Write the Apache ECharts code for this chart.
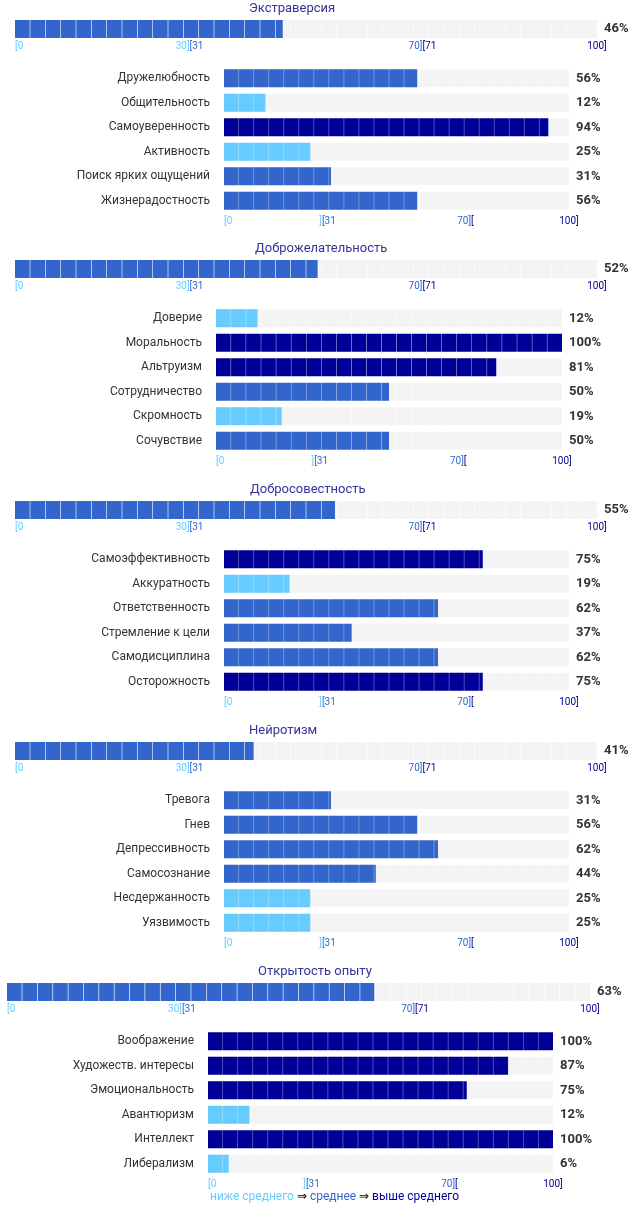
<!DOCTYPE html>
<html>
<head>
<meta charset="UTF-8">
<title>Big Five</title>
<script src="https://cdn.jsdelivr.net/npm/echarts@6/dist/echarts.min.js"></script>
<style>
  * { margin: 0; padding: 0; }
  body { background: #fff; }
  #main { width: 642px; height: 1224px; }
</style>
</head>
<body>
<div id="main"></div>
<script>
var titles = ['Экстраверсия', 'Доброжелательность', 'Добросовестность', 'Нейротизм', 'Открытость опыту'];
var mainValues = [46, 52, 55, 41, 63];
var subNames = [
  ['Дружелюбность', 'Общительность', 'Самоуверенность', 'Активность', 'Поиск ярких ощущений', 'Жизнерадостность'],
  ['Доверие', 'Моральность', 'Альтруизм', 'Сотрудничество', 'Скромность', 'Сочувствие'],
  ['Самоэффективность', 'Аккуратность', 'Ответственность', 'Стремление к цели', 'Самодисциплина', 'Осторожность'],
  ['Тревога', 'Гнев', 'Депрессивность', 'Самосознание', 'Несдержанность', 'Уязвимость'],
  ['Воображение', 'Художеств. интересы', 'Эмоциональность', 'Авантюризм', 'Интеллект', 'Либерализм']
];
var subValues = [
  [56, 12, 94, 25, 31, 56],
  [12, 100, 81, 50, 19, 50],
  [75, 19, 62, 37, 62, 75],
  [31, 56, 62, 44, 25, 25],
  [100, 87, 75, 12, 100, 6]
];
var legendParts = ['ниже среднего', 'среднее', 'выше среднего'];

var LOW = '#66ccff', MID = '#3366cc', HIGH = '#000099';
function colorOf(v) { return v <= 30 ? LOW : (v <= 70 ? MID : HIGH); }

// layout per section
var offsets = [0, 240, 481, 722, 963];
var titleX = [309, 315, 310, 309, 318];
var mainLR = [[15, 45], [15, 45], [15, 45], [15, 45], [7, 52]];
var subLR = [[224, 73], [216, 80], [224, 73], [224, 73], [208, 89]];

var rich = {
  l: { color: LOW, fontSize: 10, fontFamily: 'Roboto' },
  m: { color: MID, fontSize: 10, fontFamily: 'Roboto' },
  h: { color: HIGH, fontSize: 10, fontFamily: 'Roboto' }
};
function mainTick(v) {
  if (v === 0) return '{l|[0}';
  if (v === 30) return '{l|30]}{m|[31}';
  if (v === 70) return '{m|70]}{h|[71}';
  if (v === 100) return '{h|100]}';
  return '';
}
function subTick(v) {
  if (v === 0) return '{l|[0}';
  if (v === 30) return '{l|]}{m|[31}';
  if (v === 70) return '{m|70]}{h|[}';
  if (v === 100) return '{h|100]}';
  return '';
}

var grid = [], xAxis = [], yAxis = [], series = [], graphic = [];

function segSeries(idx, values, barH) {
  series.push({
    type: 'pictorialBar', xAxisIndex: idx, yAxisIndex: idx * 2,
    symbol: 'rect', symbolRepeat: 'fixed', symbolSize: [14.7, barH], symbolMargin: 0.5,
    symbolBoundingData: 100, symbolClip: false, silent: true, z: 1,
    itemStyle: { color: '#f4f4f4' },
    data: values.map(function () { return 100; })
  });
  series.push({
    type: 'pictorialBar', xAxisIndex: idx, yAxisIndex: idx * 2,
    symbol: 'rect', symbolRepeat: 'fixed', symbolSize: [14.7, barH], symbolMargin: 0.5,
    symbolBoundingData: 100, symbolClip: true, silent: true, z: 2,
    data: values.map(function (v) { return { value: v, itemStyle: { color: colorOf(v) } }; })
  });
}

function addGrid(left, right, top, height, cats, values, tickFn, labelMargin, showNames) {
  var idx = grid.length;
  grid.push({ left: left, right: right, top: top, height: height });
  xAxis.push({
    gridIndex: idx, type: 'value', min: 0, max: 100, interval: 10,
    axisLine: { show: false }, axisTick: { show: false }, splitLine: { show: false },
    axisLabel: { margin: labelMargin, formatter: tickFn, rich: rich, alignMinLabel: 'left', showMaxLabel: true }
  });
  yAxis.push({
    gridIndex: idx, type: 'category', inverse: true, data: cats,
    axisLine: { show: false }, axisTick: { show: false },
    axisLabel: { show: showNames, margin: 14, color: '#333', fontSize: 12, fontFamily: 'Roboto' }
  });
  yAxis.push({
    gridIndex: idx, type: 'category', inverse: true, position: 'right',
    data: values.map(function (v) { return v + '%'; }),
    axisLine: { show: false }, axisTick: { show: false },
    axisLabel: { margin: 7, color: '#333', fontSize: 13, fontWeight: 'bold', fontFamily: 'Roboto' }
  });
  segSeries(idx, values, 18);
}

for (var i = 0; i < titles.length; i++) {
  var oy = offsets[i];
  graphic.push({
    type: 'text', left: titleX[i] - 60, top: oy + 2,
    style: { text: titles[i], width: 120, align: 'center', fill: '#333399', fontSize: 13, fontFamily: 'Roboto', x: 60, textAlign: 'center' }
  });
  addGrid(mainLR[i][0], mainLR[i][1], oy + 20, 18, [titles[i]], [mainValues[i]], mainTick, 3, false);
  addGrid(subLR[i][0], subLR[i][1], oy + 66, 147, subNames[i], subValues[i], subTick, 3, true);
}

graphic.push({
  type: 'text', left: 210, top: 1191,
  style: {
    text: '{l|' + legendParts[0] + '} ⇒ {m|' + legendParts[1] + '} ⇒ {h|' + legendParts[2] + '}',
    fill: '#000', fontSize: 12, fontFamily: 'Roboto',
    rich: {
      l: { fill: LOW, fontSize: 12, fontFamily: 'Roboto' },
      m: { fill: MID, fontSize: 12, fontFamily: 'Roboto' },
      h: { fill: HIGH, fontSize: 12, fontFamily: 'Roboto' }
    }
  }
});

var chart = echarts.init(document.getElementById('main'));
chart.setOption({
  animation: false,
  grid: grid, xAxis: xAxis, yAxis: yAxis, series: series, graphic: graphic
});
</script>
</body>
</html>
